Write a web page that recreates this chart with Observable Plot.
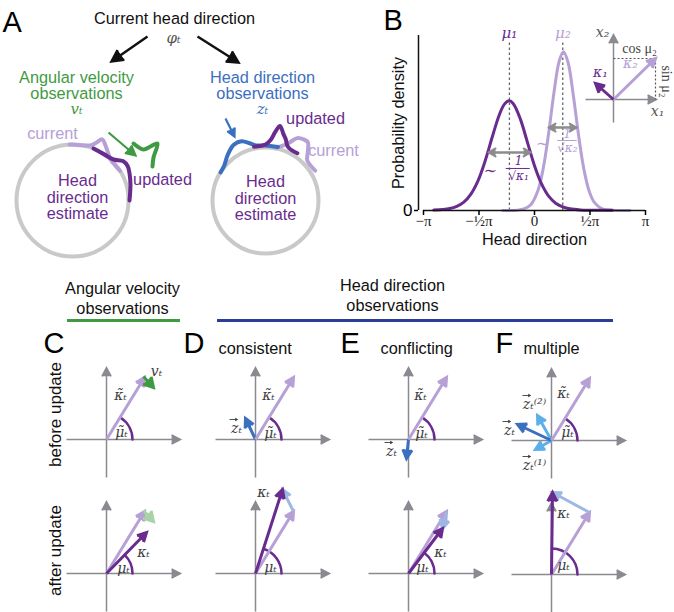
<!DOCTYPE html>
<html><head><meta charset="utf-8">
<script src="https://cdn.jsdelivr.net/npm/d3@7"></script>
<script src="https://cdn.jsdelivr.net/npm/@observablehq/plot@0.6"></script>
<style>
html,body{margin:0;padding:0;background:#fff;}
#fig{position:relative;width:674px;height:612px;overflow:hidden;background:#fff;}
</style></head><body><div id="fig"></div>
<script>
const FONT = "'Liberation Sans', Arial, Helvetica, sans-serif";
const MATH = "'DejaVu Serif', serif";
const TIMES = "'Liberation Serif', 'DejaVu Serif', serif";
const COL = {lav:"#b6a0d6", pur:"#692c8e", grn:"#3f9a43", grnFaint:"#a8d3a5", blu:"#3b6fc0", bluFaint:"#9db8e2",
  lblu:"#5bb0ea", axis:"#8a8a90", circ:"#c9c9c9", navy:"#2a3d98", dash:"#666", math:"#3d3d3d", grey:"#8c8c8c"};

// ---------- Panel A (schematic) ----------
const circles = [{id:"velocity", cx:72, cy:200, r:56}, {id:"direction", cx:265, cy:200, r:53}];
// bumps: [angle from top (deg, clockwise), radial offset]
const leftCurrent = [[-3,0],[10,0],[18,2],[22,6],[26,12],[30,9],[36,4],[43,0],[58,0]];
const leftUpdated = [[22,0],[35,0],[45,2],[52,8],[58,9],[65,7],[75,4],[90,1]];
const leftVelocity = [[133,143],[143,149],[150,146],[157,143],[153,157],[152,166]];
const rightObs = [[-58,0],[-50,1],[-40,6],[-30,11],[-22,11],[-15,6],[-10,3],[0,2],[13,2]];
const rightCurrent = [[12,1],[17,4],[22,9],[27,17],[32,19],[36,19],[42,10],[46,5],[59,5]];
const rightUpdated = [[-12,2],[0,3],[5,8],[8,16],[11,23],[15,16],[18,12],[23,5],[34,4]];
const blackArrows = [[147,36,111,61],[197,36,238,62]];
const greenArrow = [[108,132,135,155]];
const blueArrow = [[225,118,234,136]];

// ---------- Panel B (densities) ----------
const dir1 = [-2.85,-2.6,-2.4,-2.2,-2.0,-1.8,-1.6,-1.4,-1.2,-1.0,-0.85,-0.72,-0.6,-0.4,-0.2,0.0,0.2,0.4,0.6,0.8,1.0,1.3,1.6,2.0,2.2];
const dens1 = [0.003,0.007,0.014,0.030,0.060,0.117,0.211,0.350,0.519,0.678,0.757,0.780,0.760,0.650,0.485,0.319,0.189,0.102,0.052,0.026,0.012,0.004,0.002,0.001,0.001];
const dir2 = [-0.9,-0.5,-0.3,-0.1,0.1,0.25,0.4,0.55,0.7,0.82,0.95,1.1,1.25,1.4,1.55,1.7,1.9,2.1,2.4,2.7];
const dens2 = [0.000,0.002,0.011,0.043,0.144,0.304,0.549,0.837,1.064,1.130,1.053,0.817,0.531,0.291,0.136,0.056,0.014,0.003,0.000,0.000];
const muValues = [-0.71, 0.80];
const muLabels = ["μ₁", "μ₂"];
const xTicks = [-Math.PI, -Math.PI/2, 0, Math.PI/2, Math.PI];
const xTickLabels = ["−π", "−½π", "0", "½π", "π"];
const widthArrows = [{y:0.413, x1:-1.30, x2:-0.11}, {y:0.590, x1:0.40, x2:1.19}];
const yMax = 1.245;

// inset (units: px-like, y up)
const insetAxes = [[-28,0,43,0],[0,-23,0,65]];
const kappa1 = [[0,0,-18,16]];
const kappa2 = [[0,0,42,41]];

// ---------- Panels C-F (vectors, px-like units, y up) ----------
const panelOrigins = [["C",106,439,573],["D",255,439,573],["E",408,439,573],["F",551,440,574]];
const vecAxes = [[-40,0,74,0],[0,-38,0,72]];
const kTilde = [38, 62];
const velocityC = [37, 63, 47, 52];
const kappaAfterPanel = ["C","D","E","F"];
const kappaAfterX = [40, 27, 34, 1];
const kappaAfterY = [41, 84, 45, 82];
const obsVectors = [
  {panel:"D", kind:"z", x:-10, y:21},
  {panel:"E", kind:"z", x:-2, y:-19},
  {panel:"F", kind:"z1", x:-16, y:-9},
  {panel:"F", kind:"z2", x:-14, y:25},
  {panel:"F", kind:"z", x:-34, y:16}
];
// vec: horizontal offset of the small vector arrow drawn above "z"
const vecLabelsBefore = [
 {panel:"C", t:"κ̃ₜ", x:14, y:44},{panel:"C", t:"μ̃ₜ", x:15, y:7},{panel:"C", t:"vₜ", x:50, y:68},
 {panel:"D", t:"κ̃ₜ", x:13, y:44},{panel:"D", t:"μ̃ₜ", x:15, y:6},{panel:"D", t:"zₜ", x:-19, y:11, vec:-3},
 {panel:"E", t:"κ̃ₜ", x:12, y:44},{panel:"E", t:"μ̃ₜ", x:13, y:6},{panel:"E", t:"zₜ", x:-17, y:-12, vec:-3},
 {panel:"F", t:"κ̃ₜ", x:12, y:47},{panel:"F", t:"μ̃ₜ", x:16, y:8},{panel:"F", t:"zₜ⁽²⁾", x:-17, y:36, vec:-8},
 {panel:"F", t:"zₜ", x:-42, y:10, vec:-3},{panel:"F", t:"zₜ⁽¹⁾", x:-17, y:-25, vec:-8}
];
const vecLabelsAfter = [
 {panel:"C", t:"κₜ", x:37, y:21},{panel:"C", t:"μₜ", x:17, y:5},
 {panel:"D", t:"κₜ", x:8, y:81},{panel:"D", t:"μₜ", x:15, y:6},
 {panel:"E", t:"κₜ", x:32, y:21},{panel:"E", t:"μₜ", x:14, y:6},
 {panel:"F", t:"κₜ", x:12, y:61},{panel:"F", t:"μₜ", x:12, y:9}
];
const arcRadius = 26;

// ---------- helpers ----------
const fig = document.getElementById("fig");
function place(svg, left, top){ svg.style.position="absolute"; svg.style.left=left+"px"; svg.style.top=top+"px"; fig.appendChild(svg); }
const transparent = {background:"transparent", overflow:"visible"};
function arrows(rows, {stroke, sw=3, wing=10, angle=50, ext=0}){
  const data = rows.map(([x1,y1,x2,y2]) => {
    const L = Math.hypot(x2-x1, y2-y1) || 1;
    return {x1: x1-(x2-x1)/L*ext, y1: y1-(y2-y1)/L*ext, x2, y2};
  });
  return Plot.arrow(data, {x1:"x1", y1:"y1", x2:"x2", y2:"y2", stroke, fill:stroke, strokeWidth:sw,
    headLength: wing*1.5/sw, headAngle: angle, insetStart: ext, strokeLinejoin:"miter", strokeMiterlimit:4, strokeLinecap:"butt"});
}
function arc(angleDeg, stroke){
  const a = angleDeg*Math.PI/180;
  return Plot.arrow([{x1:arcRadius, y1:0, x2:arcRadius*Math.cos(a), y2:arcRadius*Math.sin(a)}],
    {x1:"x1", y1:"y1", x2:"x2", y2:"y2", bend: -angleDeg/2, headLength:0, stroke, strokeWidth:2.5, fill:"none"});
}
function onCircle(c, pts){
  return pts.map(([deg, off]) => ({x: c.cx + (c.r+off)*Math.sin(deg*Math.PI/180), y: c.cy - (c.r+off)*Math.cos(deg*Math.PI/180)}));
}
function mathLabels(rows){
  const vecs = rows.filter(d=>d.vec!==undefined).map(d=>[d.x+d.vec-4, d.y+9, d.x+d.vec+4, d.y+9]);
  return [
    Plot.text(rows, {x:"x", y:"y", text:"t", fontSize:14, fontFamily:MATH, fontStyle:"italic", fill:COL.math}),
    arrows(vecs, {stroke:COL.math, sw:0.9, wing:3, angle:60})
  ];
}

// ---------- frame plot (panel A + layout text) ----------
const textsA = [
 {t:"Current head direction", x:174, y:18, c:"#111"},
 {t:"Angular velocity\nobservations", x:76, y:85, c:COL.grn},
 {t:"Head direction\nobservations", x:262, y:85, c:COL.blu},
 {t:"Head\ndirection\nestimate", x:77, y:197, c:COL.pur},
 {t:"Head\ndirection\nestimate", x:265, y:198, c:COL.pur},
 {t:"current", x:52, y:133, c:COL.lav},
 {t:"updated", x:162, y:179, c:COL.pur},
 {t:"updated", x:315, y:118, c:COL.pur},
 {t:"current", x:333, y:150, c:COL.lav}
];
const mathA = [{t:"φₜ", x:173, y:38, c:"#555"},{t:"vₜ", x:76, y:109, c:COL.grn},{t:"zₜ", x:262, y:109, c:COL.blu}];
const headers = [{t:"Angular velocity\nobservations", x:122, y:297},{t:"Head direction\nobservations", x:392, y:294}];
const headerRules = [{x1:67, x2:180, y:320, c:COL.grn},{x1:217, x2:613, y:320, c:COL.navy}];
const letters = [{t:"A",x:2,y:22},{t:"B",x:383,y:20},{t:"C",x:43,y:343},{t:"D",x:183,y:343},{t:"E",x:340,y:343},{t:"F",x:495,y:343}];
const subtitles = [{t:"consistent",x:218,y:348},{t:"conflicting",x:380,y:348},{t:"multiple",x:523,y:348}];
const rowLabels = [{t:"before update",x:55,y:414},{t:"after update",x:55,y:550}];

const frame = Plot.plot({
  width:674, height:612, margin:0,
  x:{domain:[0,674], range:[0,674], axis:null},
  y:{domain:[0,612], range:[0,612], axis:null},
  r:{type:"identity"},
  style: transparent,
  marks:[
    Plot.dot(circles, {x:"cx", y:"cy", r:"r", stroke:COL.circ, strokeWidth:4, fill:"none"}),
    Plot.line(onCircle(circles[0], leftCurrent), {x:"x", y:"y", stroke:COL.lav, strokeWidth:4, curve:"catmull-rom"}),
    Plot.line(onCircle(circles[0], leftUpdated), {x:"x", y:"y", stroke:COL.pur, strokeWidth:4, curve:"catmull-rom"}),
    Plot.line(leftVelocity, {x:d=>d[0], y:d=>d[1], stroke:COL.grn, strokeWidth:4, curve:"catmull-rom"}),
    Plot.line(onCircle(circles[1], rightCurrent), {x:"x", y:"y", stroke:COL.lav, strokeWidth:4, curve:"catmull-rom"}),
    Plot.line(onCircle(circles[1], rightObs), {x:"x", y:"y", stroke:COL.blu, strokeWidth:4, curve:"catmull-rom"}),
    Plot.line(onCircle(circles[1], rightUpdated), {x:"x", y:"y", stroke:COL.pur, strokeWidth:4, curve:"catmull-rom"}),
    arrows(blackArrows, {stroke:"#111", sw:2.5, wing:13, angle:55}),
    arrows(greenArrow, {stroke:COL.grn, sw:2.2, wing:11, angle:55}),
    arrows(blueArrow, {stroke:COL.blu, sw:2.2, wing:9, angle:55, ext:10}),
    Plot.text(textsA, {x:"x", y:"y", text:"t", fill:d=>d.c, fontSize:16.3, fontFamily:FONT, lineHeight:1.0}),
    Plot.text(mathA, {x:"x", y:"y", text:"t", fill:d=>d.c, fontSize:15, fontFamily:MATH, fontStyle:"italic"}),
    Plot.ruleY(headerRules, {y:"y", x1:"x1", x2:"x2", stroke:d=>d.c, strokeWidth:3}),
    Plot.text(headers, {x:"x", y:"y", text:"t", fontSize:16.3, fontFamily:FONT, lineHeight:1.2, fill:"#111"}),
    Plot.text(letters, {x:"x", y:"y", text:"t", fontSize:29, fontFamily:FONT, textAnchor:"start", fill:"#000"}),
    Plot.text(subtitles, {x:"x", y:"y", text:"t", fontSize:16.3, fontFamily:FONT, textAnchor:"start", fill:"#111"}),
    Plot.text(rowLabels, {x:"x", y:"y", text:"t", fontSize:17, fontFamily:FONT, rotate:-90, fill:"#111"})
  ]
});
place(frame, 0, 0);

// ---------- Panel B ----------
const curve1 = dir1.map((x,i)=>({x, y:dens1[i]}));
const curve2 = dir2.map((x,i)=>({x, y:dens2[i]}));
const fracParts = [
  {t:"∼", x:-1.25, y:0.285, c:COL.pur, s:16},
  {t:"1", x:-0.45, y:0.348, c:COL.pur, s:12},
  {t:"√κ₁", x:-0.45, y:0.245, c:COL.pur, s:12},
  {t:"∼", x:0.23, y:0.477, c:COL.lav, s:16},
  {t:"1", x:0.93, y:0.545, c:COL.lav, s:12},
  {t:"√κ₂", x:0.93, y:0.445, c:COL.lav, s:12}
];
const fracBars = [{y:0.299, x1:-0.80, x2:-0.12, c:COL.pur},{y:0.498, x1:0.66, x2:1.21, c:COL.lav}];
const B = Plot.plot({
  width:334, height:262, marginLeft:83, marginRight:29, marginTop:35, marginBottom:52,
  x:{domain:[-Math.PI, Math.PI]}, y:{domain:[0, yMax]},
  style: transparent,
  marks:[
    Plot.ruleX(muValues, {y1:0, y2:1.195, stroke:COL.dash, strokeDasharray:"2.5,2.5", strokeWidth:1.3}),
    Plot.line(curve2, {x:"x", y:"y", stroke:COL.lav, strokeWidth:3, curve:"catmull-rom"}),
    Plot.line(curve1, {x:"x", y:"y", stroke:COL.pur, strokeWidth:3, curve:"catmull-rom"}),
    Plot.ruleX([xTicks[0]], {y1:0, y2:yMax, dx:-5, stroke:"#111", strokeWidth:1.5}),
    Plot.ruleY([0], {x1:xTicks[0], x2:xTicks[4], stroke:"#111", strokeWidth:1.5}),
    Plot.axisX({ticks:xTicks, tickFormat:(d,i)=>xTickLabels[i], tickSize:5, tickPadding:0, fontSize:15, fontFamily:TIMES, label:null, strokeWidth:1.5, fill:"#222"}),
    Plot.axisY({ticks:[0], tickFormat:()=>"0", tickSize:4, tickPadding:2, dx:-5, fontSize:17, fontFamily:FONT, label:null, strokeWidth:1.5}),
    Plot.text(["Probability density"], {text:d=>d, frameAnchor:"left", textAnchor:"middle", dx:-25, rotate:-90, fontSize:16.3, fontFamily:FONT, fill:"#111"}),
    Plot.text(["Head direction"], {text:d=>d, frameAnchor:"bottom", textAnchor:"middle", dy:34, fontSize:16.3, fontFamily:FONT, fill:"#111"}),
    Plot.text(muValues, {x:d=>d, y:1.262, text:(d,i)=>muLabels[i], fill:(d,i)=>i?COL.lav:COL.pur, fontSize:15, fontFamily:MATH, fontStyle:"italic"}),
    Plot.arrow(widthArrows, {x1:"x1", x2:"x2", y1:"y", y2:"y", stroke:COL.grey, fill:COL.grey, strokeWidth:2, headLength:6, headAngle:60, strokeLinejoin:"miter"}),
    Plot.arrow(widthArrows, {x1:"x2", x2:"x1", y1:"y", y2:"y", stroke:COL.grey, fill:COL.grey, strokeWidth:2, headLength:6, headAngle:60, strokeLinejoin:"miter"}),
    Plot.ruleY(fracBars, {y:"y", x1:"x1", x2:"x2", stroke:d=>d.c, strokeWidth:1}),
    Plot.text(fracParts, {x:"x", y:"y", text:"t", fill:d=>d.c, fontSize:d=>d.s, fontFamily:MATH, fontStyle:"italic"})
  ]
});
place(B, 340, 0);

// inset
const insetLabels = [
  {t:"x₂", x:-11, y:67, c:"#555"}, {t:"x₁", x:44, y:-12, c:"#555"},
  {t:"κ₁", x:-13, y:27, c:COL.pur}, {t:"κ₂", x:17, y:36, c:COL.lav}
];
const insetTrig = [{t:"cos μ₂", x:26, y:51},{t:"sin μ₂", x:53, y:18}];
const insetDash = [{x1:0,y1:41,x2:42,y2:41},{x1:42,y1:41,x2:42,y2:0}];
const inset = Plot.plot({
  width:99, height:105, margin:0,
  x:{domain:[-38,61], axis:null}, y:{domain:[-31,74], axis:null},
  style: transparent,
  marks:[
    arrows(insetAxes, {stroke:COL.axis, sw:1.5, wing:10, angle:55}),
    Plot.link(insetDash, {x1:"x1", y1:"y1", x2:"x2", y2:"y2", stroke:"#555", strokeDasharray:"2,2", strokeWidth:1.2}),
    arrows(kappa2, {stroke:COL.lav, sw:3, wing:10, angle:55}),
    arrows(kappa1, {stroke:COL.pur, sw:3, wing:10, angle:55, ext:15}),
    Plot.text(insetLabels, {x:"x", y:"y", text:"t", fill:d=>d.c, fontSize:14, fontFamily:MATH, fontStyle:"italic"}),
    Plot.text(insetTrig.slice(0,1), {x:"x", y:"y", text:"t", fill:"#444", fontSize:14, fontFamily:TIMES}),
    Plot.text(insetTrig.slice(1), {x:"x", y:"y", text:"t", rotate:90, fill:"#444", fontSize:14, fontFamily:TIMES})
  ]
});
place(inset, 575, 25);

// ---------- vector panels ----------
function vectorPlot(panel, row){
  const o = panelOrigins.find(p=>p[0]===panel);
  const ox = o[1], oy = row==="before" ? o[2] : o[3];
  const marks = [arrows(vecAxes, {stroke:COL.axis, sw:1.5, wing:10, angle:55})];
  const kt = [[0,0,kTilde[0],kTilde[1]]];
  const tildeAngle = Math.atan2(kTilde[1], kTilde[0])*180/Math.PI;
  if (row==="before"){
    marks.push(arc(tildeAngle, COL.pur));
    if (panel==="F"){
      const z1 = obsVectors.find(d=>d.panel==="F"&&d.kind==="z1"), z2 = obsVectors.find(d=>d.panel==="F"&&d.kind==="z2");
      marks.push(arrows([[0,0,z1.x,z1.y],[0,0,z2.x,z2.y]], {stroke:COL.lblu, sw:3, wing:10, angle:55, ext:20}));
    }
    const z = obsVectors.find(d=>d.panel===panel && d.kind==="z");
    if (z) marks.push(arrows([[0,0,z.x,z.y]], {stroke:COL.blu, sw:3, wing:10, angle:55, ext:20}));
    marks.push(arrows(kt, {stroke:COL.lav, sw:3, wing:10, angle:55}));
    if (panel==="C") marks.push(arrows([velocityC], {stroke:COL.grn, sw:3, wing:11, angle:60, ext:20}));
    marks.push(...mathLabels(vecLabelsBefore.filter(d=>d.panel===panel)));
  } else {
    const i = kappaAfterPanel.indexOf(panel);
    const k = [kappaAfterX[i], kappaAfterY[i]];
    marks.push(arc(Math.atan2(k[1], k[0])*180/Math.PI, COL.pur));
    marks.push(arrows(kt, {stroke:COL.lav, sw:3, wing:10, angle:55}));
    if (panel==="C") marks.push(arrows([velocityC], {stroke:COL.grnFaint, sw:3, wing:11, angle:60, ext:20}));
    else marks.push(arrows([[kTilde[0],kTilde[1],k[0],k[1]]], {stroke:COL.bluFaint, sw:3, wing:10, angle:55, ext:20}));
    marks.push(arrows([[0,0,k[0],k[1]]], {stroke:COL.pur, sw:3, wing:10, angle:55}));
    marks.push(...mathLabels(vecLabelsAfter.filter(d=>d.panel===panel)));
  }
  const svg = Plot.plot({width:135, height:130, margin:0, x:{domain:[-50,85], axis:null}, y:{domain:[-45,85], axis:null}, style:transparent, marks});
  place(svg, ox-50, oy-85);
}
for (const p of ["C","D","E","F"]) { vectorPlot(p, "before"); vectorPlot(p, "after"); }
</script></body></html>
